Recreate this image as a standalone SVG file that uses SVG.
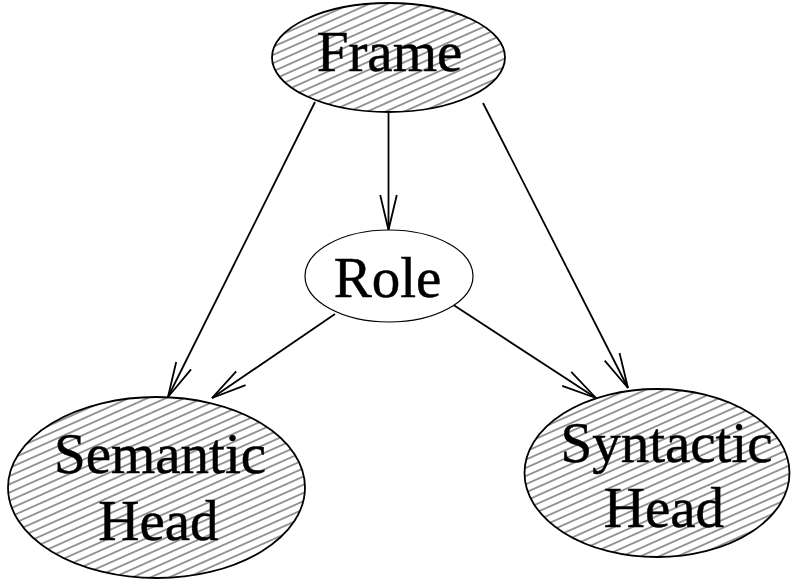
<svg xmlns="http://www.w3.org/2000/svg" width="791" height="579" viewBox="0 0 791 579">
  <style>
    .node { stroke: #000; stroke-width: 1.8; }
    .hatched { fill: url(#hatch); }
    .plain { fill: #fff; stroke-width: 1.2; }
    .label { font-size: 57px; text-anchor: middle; fill: #000; stroke: #000; stroke-width: 0.5; }
    .edge { stroke: #000; stroke-width: 1.8; fill: none; marker-end: url(#open-arrow); }
  </style>
  <defs>
    <!-- diagonal hatching used to fill the shaded nodes -->
    <pattern id="hatch" patternUnits="userSpaceOnUse" width="7.5" height="7.5" patternTransform="rotate(-24)">
      <rect width="7.5" height="7.5" fill="#fff"/>
      <line x1="0" y1="3.75" x2="7.5" y2="3.75" stroke="#333" stroke-width="1"/>
    </pattern>
    <!-- open V arrowhead -->
    <marker id="open-arrow" markerUnits="userSpaceOnUse" viewBox="-40 -12 44 24" refX="0" refY="0" markerWidth="44" markerHeight="24" orient="auto" overflow="visible">
      <path d="M-35,-8.3 L0,0 L-35,8.3" fill="none" stroke="#000" stroke-width="1.8"/>
    </marker>
  </defs>

  <g id="edges">
    <line class="edge" x1="315" y1="102" x2="168" y2="397"/>
    <line class="edge" x1="335" y1="314" x2="212" y2="398"/>
    <line class="edge" x1="388.5" y1="112" x2="388.5" y2="230"/>
    <line class="edge" x1="483" y1="103" x2="628" y2="388"/>
    <line class="edge" x1="452" y1="304" x2="596" y2="398"/>
  </g>

  <g font-family="'Liberation Serif', serif">
    <g id="frame">
      <ellipse class="node hatched" cx="388.5" cy="57.5" rx="116.5" ry="54.5"/>
      <text class="label" x="389.5" y="71">Frame</text>
    </g>

    <g id="role">
      <ellipse class="node plain" cx="389" cy="276" rx="84" ry="46"/>
      <text class="label" x="387.5" y="297">Role</text>
    </g>

    <g id="semantic-head">
      <ellipse class="node hatched" cx="156.5" cy="487.5" rx="148.5" ry="90.5"/>
      <text class="label" x="160" y="473">Semantic</text>
      <text class="label" x="158.5" y="540">Head</text>
    </g>

    <g id="syntactic-head">
      <ellipse class="node hatched" cx="657" cy="473" rx="132.5" ry="84"/>
      <text class="label" x="666.5" y="462">Syntactic</text>
      <text class="label" x="664" y="527">Head</text>
    </g>
  </g>
</svg>
